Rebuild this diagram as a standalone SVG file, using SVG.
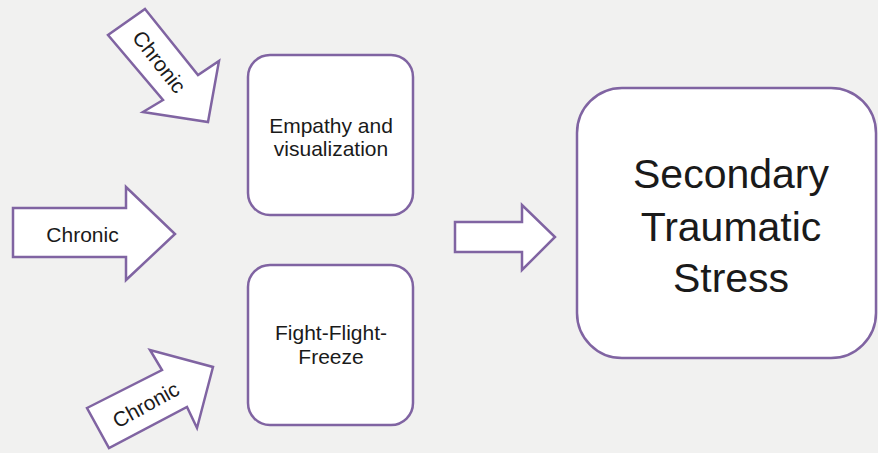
<svg xmlns="http://www.w3.org/2000/svg" width="878" height="453" viewBox="0 0 878 453">
<style>
.shape{fill:#ffffff;stroke:#8064a2;stroke-width:2.5;stroke-linejoin:miter}
.t{font-family:"Liberation Sans",Arial,sans-serif;fill:#1a1a1a;text-anchor:middle}
.s{font-size:21px}
.b{font-size:41px}
</style>
<rect width="878" height="453" fill="#f1f1f0"/>
<g id="connectors">
  <g id="arrow-top">
    <polygon class="shape" points="145,9 198,75 219,61 208,122 143,112 163,100 108,35"/>
    <text class="t s" transform="translate(159,62) rotate(52)" x="0" y="7">Chronic</text>
  </g>
  <g id="arrow-middle">
    <polygon class="shape" points="13,208 126,208 126,187 175,234 126,280 126,257 13,257"/>
    <text class="t s" x="82.5" y="242">Chronic</text>
  </g>
  <g id="arrow-bottom">
    <polygon class="shape" points="87,408 162,370 150,350 213,367 197,428 187,407 109,448"/>
    <text class="t s" transform="translate(146,405) rotate(-29)" x="0" y="7">Chronic</text>
  </g>
  <g id="arrow-right">
    <polygon class="shape" points="455,222 522,222 522,205 555,237 522,270 522,252 455,252"/>
  </g>
</g>
<g id="empathy">
  <rect class="shape" x="248" y="55" width="165" height="160" rx="22" ry="22"/>
  <text class="t s" x="331" y="133">Empathy and</text>
  <text class="t s" x="331" y="156">visualization</text>
</g>
<g id="fff">
  <rect class="shape" x="248" y="265" width="165" height="160" rx="22" ry="22"/>
  <text class="t s" x="331" y="340">Fight-Flight-</text>
  <text class="t s" x="331" y="364">Freeze</text>
</g>
<g id="sts">
  <rect class="shape" x="577" y="88" width="299" height="270" rx="45" ry="45"/>
  <text class="t b" x="731" y="188">Secondary</text>
  <text class="t b" x="731" y="241">Traumatic</text>
  <text class="t b" x="731" y="292">Stress</text>
</g>
</svg>
